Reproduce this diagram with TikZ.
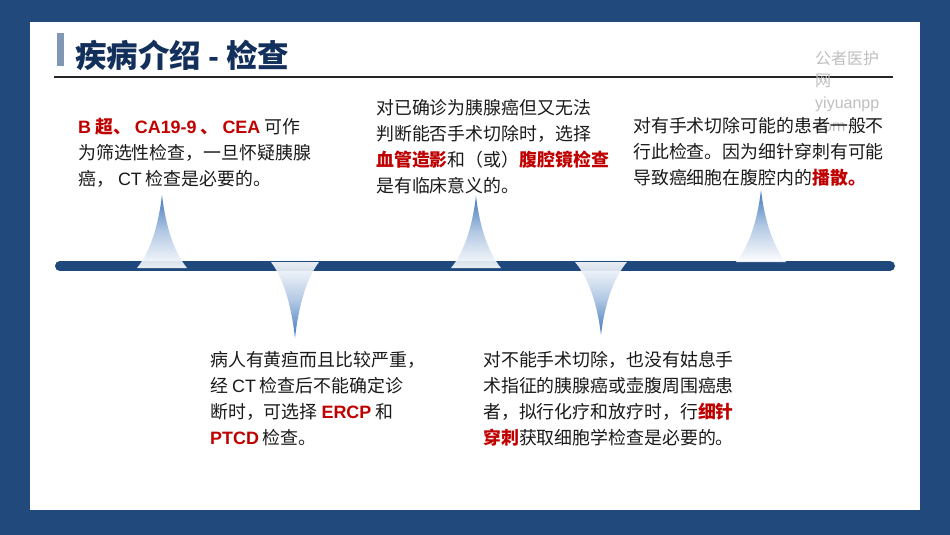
\documentclass[tikz,border=0pt]{standalone}
\usepackage{fontspec}
\setmainfont{Noto Sans CJK SC}
\newfontfamily\lat{Liberation Sans}
\definecolor{frameblue}{HTML}{21497C}
\definecolor{barblue}{HTML}{1F497D}
\definecolor{spikeblue}{HTML}{2E6AB5}
\definecolor{titlenavy}{HTML}{13305C}
\definecolor{tabgray}{HTML}{8198B5}
\definecolor{hired}{HTML}{C00000}
\definecolor{txt}{HTML}{1A1A1A}
\definecolor{wm}{HTML}{BFBFBF}
\newcommand{\hl}[1]{{\color{hired}\bfseries #1}}
\newcommand{\hll}[1]{{\color{hired}\bfseries\lat #1}}
\newcommand{\latn}[1]{{\lat #1}}
\newcommand{\upspike}[4]{%
  \shade[top color=spikeblue, bottom color=white, middle color=spikeblue!40, fill opacity=0.9]
   (#1-#4,#3) .. controls (#1-#4*0.4,#3-0.25*#3+0.25*#2) and (#1-3,#2+0.35*#3-0.35*#2) .. (#1,#2)
   .. controls (#1+3,#2+0.35*#3-0.35*#2) and (#1+#4*0.4,#3-0.25*#3+0.25*#2) .. (#1+#4,#3) -- cycle;}
\newcommand{\downspike}[4]{%
  \shade[bottom color=spikeblue, top color=white, middle color=spikeblue!40, fill opacity=0.9]
   (#1-#4,#3) .. controls (#1-#4*0.4,#3-0.25*#3+0.25*#2) and (#1-3,#2+0.35*#3-0.35*#2) .. (#1,#2)
   .. controls (#1+3,#2+0.35*#3-0.35*#2) and (#1+#4*0.4,#3-0.25*#3+0.25*#2) .. (#1+#4,#3) -- cycle;}
\tikzset{
  body/.style={anchor=north west, inner sep=0pt, align=left, text=txt,
    font=\fontsize{17.9pt}{26pt}\selectfont},
  wmark/.style={anchor=west, inner sep=0pt, text=wm, font=\fontsize{16pt}{19pt}\selectfont},
}
\begin{document}
\begin{tikzpicture}[x=1pt,y=-1pt]
\useasboundingbox (0,0) rectangle (950,535);
\fill[frameblue] (0,0) rectangle (950,535);
\fill[white] (30,22) rectangle (920,510);
% title
\fill[tabgray] (57,33) rectangle (64,66);
\node[anchor=west, inner sep=0pt, text=titlenavy, font=\fontsize{31.5pt}{34pt}\selectfont\bfseries] (title) at (75,55) {疾病介绍 {\lat -} 检查};
\coordinate (tl1) at (54,77);
\coordinate (tl2) at (893,77);
\draw[line width=1.3pt, black!85] (tl1) -- (tl2);
% watermark
\node[wmark] (wm1) at (815,58) {公者医护};
\node[wmark] (wm2) at (815,81) {网};
\node[wmark] (wm3) at (815,104) {\lat yiyuanpp};
\node[wmark] (wm4) at (815,127) {\lat com};
% timeline bar
\coordinate (b1) at (60,266);
\coordinate (b2) at (890,266);
\draw[barblue, line width=10pt, line cap=round] (b1) -- (b2);
% spikes
\upspike{162}{195}{268}{25}
\upspike{476}{196}{268}{25}
\upspike{761}{190}{262}{25}
\downspike{295}{338}{262}{24}
\downspike{601}{335}{262}{26}
% text blocks
\node[body] (t1) at (78,118) {\hll{B} \hl{超、} \hll{CA19-9} \hl{、} \hll{CEA} 可作\\为筛选性检查，一旦怀疑胰腺\\癌， \latn{CT} 检查是必要的。};
\node[body] (t2) at (376,99) {对已确诊为胰腺癌但又无法\\判断能否手术切除时，选择\\\hl{血管造影}和（或）\hl{腹腔镜检查}\\是有临床意义的。};
\node[body] (t3) at (633,117) {对有手术切除可能的患者一般不\\行此检查。因为细针穿刺有可能\\导致癌细胞在腹腔内的\hl{播散。}};
\node[body] (t4) at (210,351) {病人有黄疸而且比较严重，\\经 \latn{CT} 检查后不能确定诊\\断时，可选择 \hll{ERCP} 和\\\hll{PTCD} 检查。};
\node[body] (t5) at (483,351) {对不能手术切除，也没有姑息手\\术指征的胰腺癌或壶腹周围癌患\\者，拟行化疗和放疗时，行\hl{细针}\\\hl{穿刺}获取细胞学检查是必要的。};
\end{tikzpicture}
\end{document}
